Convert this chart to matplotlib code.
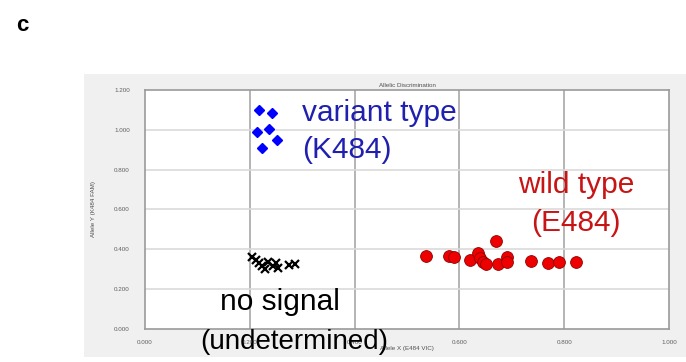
import matplotlib
matplotlib.use('Agg')
import matplotlib.pyplot as plt

plt.rcParams['font.family'] = ['Liberation Sans', 'DejaVu Sans']

# allele signal values per genotype cluster
variant_x = [0.218, 0.242, 0.213, 0.236, 0.251, 0.224]
variant_y = [1.099, 1.086, 0.987, 1.002, 0.949, 0.907]

wild_x = [0.537, 0.581, 0.589, 0.620, 0.635, 0.640, 0.645, 0.651, 0.669,
          0.673, 0.690, 0.690, 0.737, 0.770, 0.791, 0.823]
wild_y = [0.366, 0.366, 0.360, 0.346, 0.380, 0.355, 0.338, 0.325, 0.442,
          0.325, 0.363, 0.335, 0.341, 0.333, 0.336, 0.336]

nosig_x = [0.204, 0.212, 0.218, 0.223, 0.229, 0.235, 0.245, 0.250, 0.254,
           0.275, 0.287]
nosig_y = [0.361, 0.346, 0.331, 0.316, 0.301, 0.336, 0.316, 0.331, 0.306,
           0.321, 0.326]

ticks = [0.0, 0.2, 0.4, 0.6, 0.8, 1.0]
yticks = [0.0, 0.2, 0.4, 0.6, 0.8, 1.0, 1.2]

fig = plt.figure(figsize=(6.86, 3.62), dpi=100)
fig.patch.set_facecolor('white')

# grey panel behind the plot
bg = fig.add_axes([0.1224, 0.0138, 0.8776, 0.7818], zorder=0)
bg.set_facecolor('#f0f0f0')
bg.set_xticks([])
bg.set_yticks([])
for s in bg.spines.values():
    s.set_visible(False)

ax = fig.add_axes([0.2114, 0.0912, 0.7638, 0.6602], zorder=1)
ax.set_facecolor('white')
ax.set_xlim(0, 1.0)
ax.set_ylim(0, 1.2)

for v in ticks[1:-1]:
    ax.axvline(v, color='#a8a8a8', lw=1.2, zorder=1)
for v in yticks[1:-1]:
    ax.axhline(v, color='#dadada', lw=1.2, zorder=1)

ax.set_xticks(ticks)
ax.set_xticklabels(['%.3f' % t for t in ticks])
ax.set_yticks(yticks)
ax.set_yticklabels(['%.3f' % t for t in yticks])
ax.tick_params(length=0, labelsize=4.5, labelcolor='#606060')
ax.tick_params(axis='y', pad=11)
ax.tick_params(axis='x', pad=8)
for s in ax.spines.values():
    s.set_color('#9a9a9a')
    s.set_linewidth(1.2)

ax.set_title('Allelic Discrimination', fontsize=4.5, color='#505050', pad=2)
ax.set_xlabel('Allele X (E484 VIC)', fontsize=4.5, color='#505050', labelpad=1)
ax.set_ylabel('Allele Y (K484 FAM)', fontsize=4.5, color='#505050', labelpad=13)

ax.plot(variant_x, variant_y, 'D', color='#0000ff', markersize=5.3, zorder=3)
ax.plot(wild_x, wild_y, 'o', markerfacecolor='#ee0000', markeredgecolor='#900000',
        markeredgewidth=0.6, markersize=8.5, zorder=3)
ax.plot(nosig_x, nosig_y, 'x', color='black', markersize=6, markeredgewidth=1.6,
        zorder=3)

# cluster annotations
big = 21.5
ax.text(0.300, 1.084, 'variant type', color='#2020b0', fontsize=big,
        ha='left', va='center', zorder=4)
ax.text(0.300, 0.899, '(K484)', color='#2020b0', fontsize=big,
        ha='left', va='center', zorder=4)
ax.text(0.823, 0.723, 'wild type', color='#c81414', fontsize=big,
        ha='center', va='center', zorder=4)
ax.text(0.823, 0.532, '(E484)', color='#c81414', fontsize=big,
        ha='center', va='center', zorder=4)
ax.text(0.258, 0.137, 'no signal', color='black', fontsize=big,
        ha='center', va='center', zorder=4)
ax.text(0.285, -0.064, '(undetermined)', color='black', fontsize=20,
        ha='center', va='center', zorder=4, clip_on=False)

fig.text(0.032, 0.93, 'c', fontsize=16, fontweight='bold', ha='center', va='center')

fig.savefig('out.png', dpi=100)
